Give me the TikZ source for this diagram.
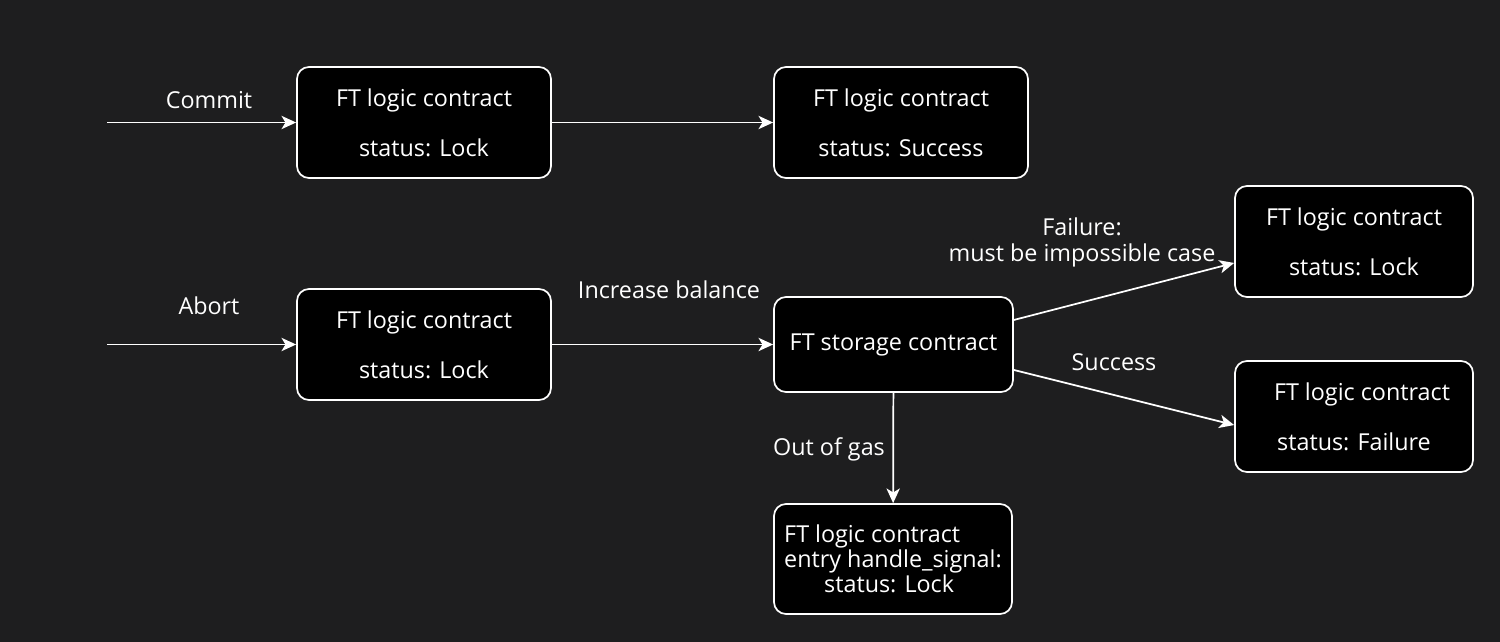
\documentclass[tikz,border=0pt]{standalone}
\usepackage{fontspec}
\setmainfont{Open Sans}
\usetikzlibrary{arrows.meta}
\definecolor{bg}{RGB}{30,30,31}
\begin{document}
\begin{tikzpicture}[x=0.75pt,y=-0.75pt,
 box/.style={draw=white,fill=black,rounded corners=9pt,line width=1.3pt,text=white,align=center,inner sep=0pt,font=\fontsize{17.5}{18.75}\selectfont},
 box2/.style={box,minimum width=190.5pt,minimum height=83.25pt},
 box3/.style={box,minimum width=178.5pt,minimum height=83.25pt},
 lbl/.style={text=white,align=center,font=\fontsize{17.5}{19.5}\selectfont,inner sep=0pt},
 arr/.style={draw=white,line width=1.3pt,-{Stealth[length=11pt,width=10pt,inset=3pt]}}]
\fill[bg] (0,0) rectangle (1500,642);
\useasboundingbox (0,0) rectangle (1500,642);
% boxes
\node[box2] (a) at (424,122.5) {FT logic contract\\[18.75pt]status: Lock};
\node[box2] (b) at (901,122.5) {FT logic contract\\[18.75pt]status: Success};
\node[box2] (c) at (424,344.5) {FT logic contract\\[18.75pt]status: Lock};
\node[box,minimum width=179.25pt,minimum height=71.25pt] (s) at (893.5,344.5) {\raisebox{-2pt}{FT storage contract}};
\node[box3] (tr) at (1354,241.5) {FT logic contract\\[18.75pt]status: Lock};
\node[box3] (br) at (1354,416.5) {\hspace*{12pt}FT logic contract\\[18.75pt]status: Failure};
\node[box,align=left,minimum width=178.5pt,minimum height=82.5pt] (d) at (893,559) {FT logic contract\\entry handle\_signal:\\\hspace*{30pt}status: Lock};
% free ends
\coordinate (cs) at (107,122.5);
\coordinate (as) at (107,344.5);
% connectors
\draw[arr] (cs) -- (a);
\draw[arr] (a) -- (b);
\draw[arr] (as) -- (c);
\draw[arr] (c) -- (s);
\draw[arr] ([yshift=18.4pt]s.east) -- ([yshift=-16.1pt]tr.west);
\draw[arr] ([yshift=-19.1pt]s.east) -- ([yshift=-6.4pt]br.west);
\draw[arr] (s) -- (d);
% labels
\node[lbl] (lc) at (209,100) {Commit};
\node[lbl] (la) at (209,306) {Abort};
\node[lbl] (li) at (669,290) {Increase balance};
\node[lbl] (lf) at (1082,242) {Failure:\\must be impossible case};
\node[lbl] (ls) at (1114,362) {Success};
\node[lbl] (lo) at (829,449) {Out of gas};
\end{tikzpicture}
\end{document}
